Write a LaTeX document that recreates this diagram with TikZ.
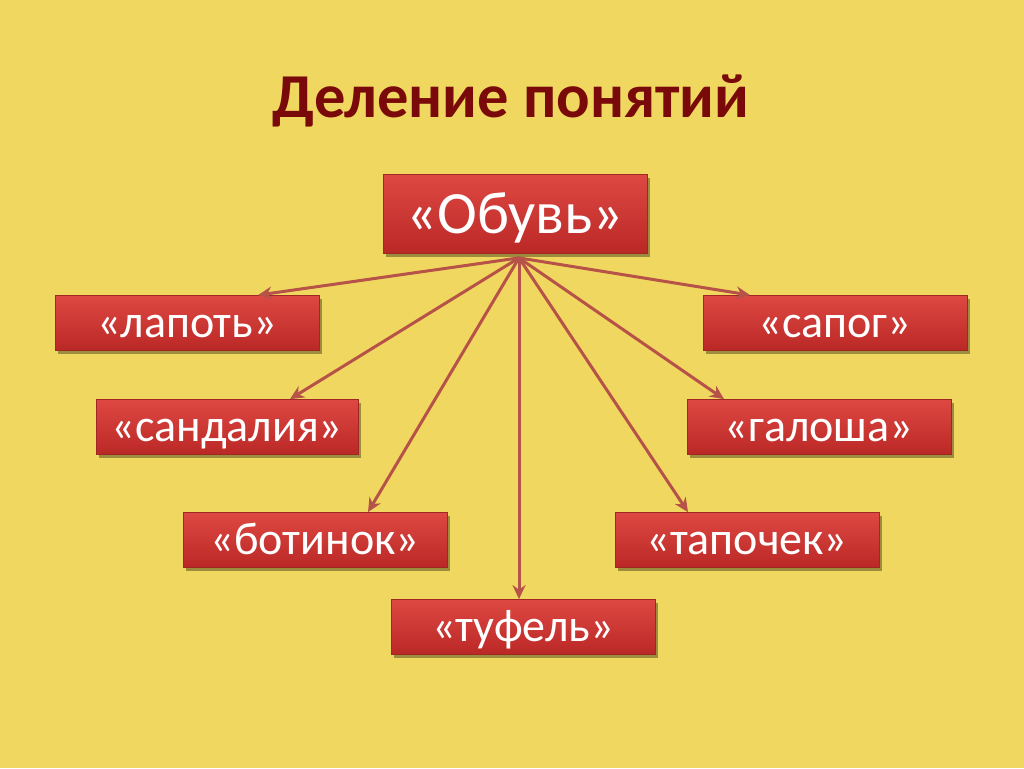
\documentclass[tikz,border=0pt]{standalone}
\usepackage{fontspec}
\setmainfont{Carlito}
\usetikzlibrary{arrows.meta,shadows}
\definecolor{bg}{RGB}{240,216,96}
\definecolor{boxtop}{RGB}{222,72,66}
\definecolor{boxbot}{RGB}{186,40,38}
\definecolor{boxline}{RGB}{160,40,36}
\definecolor{arr}{RGB}{182,82,72}
\definecolor{titlec}{RGB}{122,10,10}
\tikzset{
  conc/.style={draw=boxline, line width=0.8pt, top color=boxtop, bottom color=boxbot,
    minimum width=264pt, minimum height=55pt, inner sep=0pt, text=white,
    text height=30pt, text depth=1pt,
    font=\fontsize{46}{50}\selectfont,
    drop shadow={shadow xshift=3pt, shadow yshift=-3pt, opacity=0.35, fill=black}},
  link/.style={draw=arr, line width=3pt, -{Stealth[length=14pt,width=13pt]}}
}
\begin{document}
\begin{tikzpicture}[x=1pt,y=-1pt]
\useasboundingbox (0,0) rectangle (1024,768);
\fill[bg] (0,0) rectangle (1024,768);
\node[text=titlec, font=\bfseries\fontsize{62.5}{68}\selectfont] (title) at (511,101) {Деление понятий};
\node[conc, minimum height=79pt, text height=39pt, font=\fontsize{60}{64}\selectfont] (obuv) at (515,214) {«Обувь»};
\node[conc] (lapot) at (187,323) {«лапоть»};
\node[conc] (sapog) at (835,323) {«сапог»};
\node[conc, minimum width=262pt] (sandal) at (227,427) {«сандалия»};
\node[conc] (galosh) at (819,427) {«галоша»};
\node[conc] (botinok) at (315,540) {«ботинок»};
\node[conc] (tapoch) at (747,540) {«тапочек»};
\node[conc] (tufel) at (523,627) {«туфель»};
\coordinate (o) at ([xshift=4pt,yshift=-4pt]obuv.south);
\draw[link] (o) -- ([xshift=71pt]lapot.north);
\draw[link] (o) -- ([xshift=-85pt]sapog.north);
\draw[link] (o) -- ([xshift=63pt]sandal.north);
\draw[link] (o) -- ([xshift=-95pt]galosh.north);
\draw[link] (o) -- ([xshift=53pt]botinok.north);
\draw[link] (o) -- ([xshift=-59pt]tapoch.north);
\draw[link] (o) -- ([xshift=-4pt]tufel.north);
\end{tikzpicture}
\end{document}
